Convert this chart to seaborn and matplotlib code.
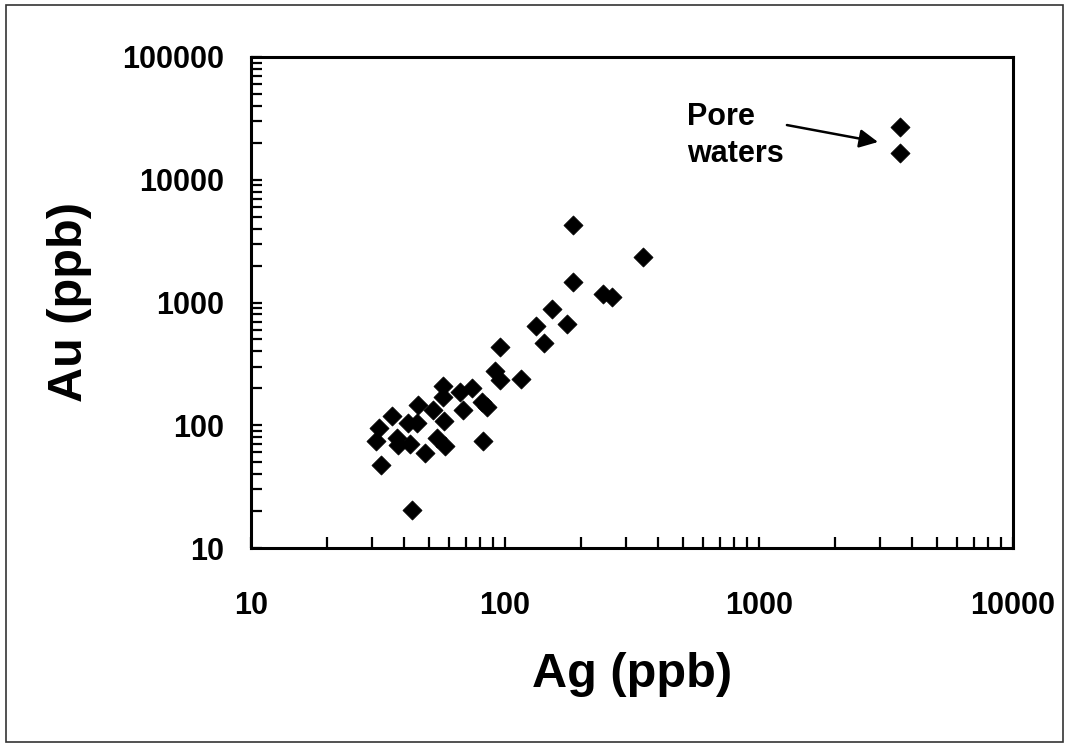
import matplotlib
matplotlib.use("Agg")
import matplotlib.pyplot as plt
import matplotlib.ticker as mticker
from matplotlib.patches import Rectangle
import seaborn as sns
import pandas as pd

# Data
ag_ppb = [31, 32, 32.4, 36, 37.5, 38, 42.3, 43, 45.6, 41.6, 44.9, 48.4, 52.2, 53.8,
          58, 56.9, 57.2, 57.7, 66.5, 73.9, 68.5, 80.9, 84.7, 82, 91, 96, 96,
          116, 143, 132, 176, 153, 186, 186, 244, 263, 348, 3590, 3590]
au_ppb = [75, 95, 47, 119, 78, 69, 71, 20.4, 146, 104, 104, 59, 133, 78,
          68, 209, 171, 109, 188, 200, 133, 156, 142, 75, 278, 234, 436,
          239, 468, 644, 668, 880, 1477, 4280, 1166, 1115, 2335, 27000, 16400]
x_ticks = [10, 100, 1000, 10000]
y_ticks = [10, 100, 1000, 10000, 100000]
x_label = "Ag (ppb)"
y_label = "Au (ppb)"
annotation = "Pore\nwaters"

df = pd.DataFrame({"Ag": ag_ppb, "Au": au_ppb})

sns.set_style("white")
plt.rcParams["font.family"] = ["Liberation Sans", "DejaVu Sans"]
plt.rcParams["font.weight"] = "bold"
plt.rcParams["text.color"] = "black"
plt.rcParams["axes.labelcolor"] = "black"
plt.rcParams["xtick.color"] = "black"
plt.rcParams["ytick.color"] = "black"

fig = plt.figure(figsize=(10.68, 7.44), dpi=100)
ax = fig.add_axes([251 / 1068, 1 - 548 / 744, (1013 - 251) / 1068, (548 - 57) / 744])

sns.scatterplot(data=df, x="Ag", y="Au", marker="D", s=95, color="black",
                edgecolor="black", linewidth=0.5, ax=ax, legend=False, zorder=3)

ax.set_xscale("log")
ax.set_yscale("log")
ax.set_xlim(10, 10000)
ax.set_ylim(10, 100000)
ax.xaxis.set_major_locator(mticker.FixedLocator(x_ticks))
ax.yaxis.set_major_locator(mticker.FixedLocator(y_ticks))
ax.xaxis.set_major_formatter(mticker.FixedFormatter([str(t) for t in x_ticks]))
ax.yaxis.set_major_formatter(mticker.FixedFormatter([str(t) for t in y_ticks]))
ax.xaxis.set_minor_locator(mticker.LogLocator(base=10, subs=range(2, 10), numticks=20))
ax.yaxis.set_minor_locator(mticker.LogLocator(base=10, subs=range(2, 10), numticks=20))
ax.xaxis.set_minor_formatter(mticker.NullFormatter())
ax.yaxis.set_minor_formatter(mticker.NullFormatter())

ax.tick_params(axis="x", which="both", direction="in", bottom=True, top=False,
               length=8, width=1.6, color="black", labelcolor="black")
ax.tick_params(axis="y", which="both", direction="in", left=True, right=False,
               length=8, width=1.6, color="black", labelcolor="black")
ax.tick_params(axis="x", which="major", pad=31, labelsize=22)
ax.tick_params(axis="y", which="major", pad=19, labelsize=22)
for lab in ax.get_xticklabels() + ax.get_yticklabels():
    lab.set_fontweight("bold")

for sp in ax.spines.values():
    sp.set_visible(True)
    sp.set_color("black")
    sp.set_linewidth(2.2)

ax.set_xlabel(x_label, fontsize=35, fontweight="bold", labelpad=22, color="black")
ax.set_ylabel(y_label, fontsize=35, fontweight="bold", labelpad=22, color="black")

ax.text(520, 43000, annotation, fontsize=22, fontweight="bold", ha="left", va="top",
        linespacing=1.3, color="black")
ax.annotate("", xy=(2941, 20300), xytext=(1288, 27900),
            arrowprops=dict(arrowstyle="-|>", color="black", lw=1.8,
                            mutation_scale=28, shrinkA=0, shrinkB=0))

fig.patches.append(Rectangle((6 / 1068, 2 / 744), 1057 / 1068, 737 / 744,
                             transform=fig.transFigure, fill=False,
                             edgecolor="#333333", linewidth=1.2))

fig.savefig("out.png", dpi=100)
